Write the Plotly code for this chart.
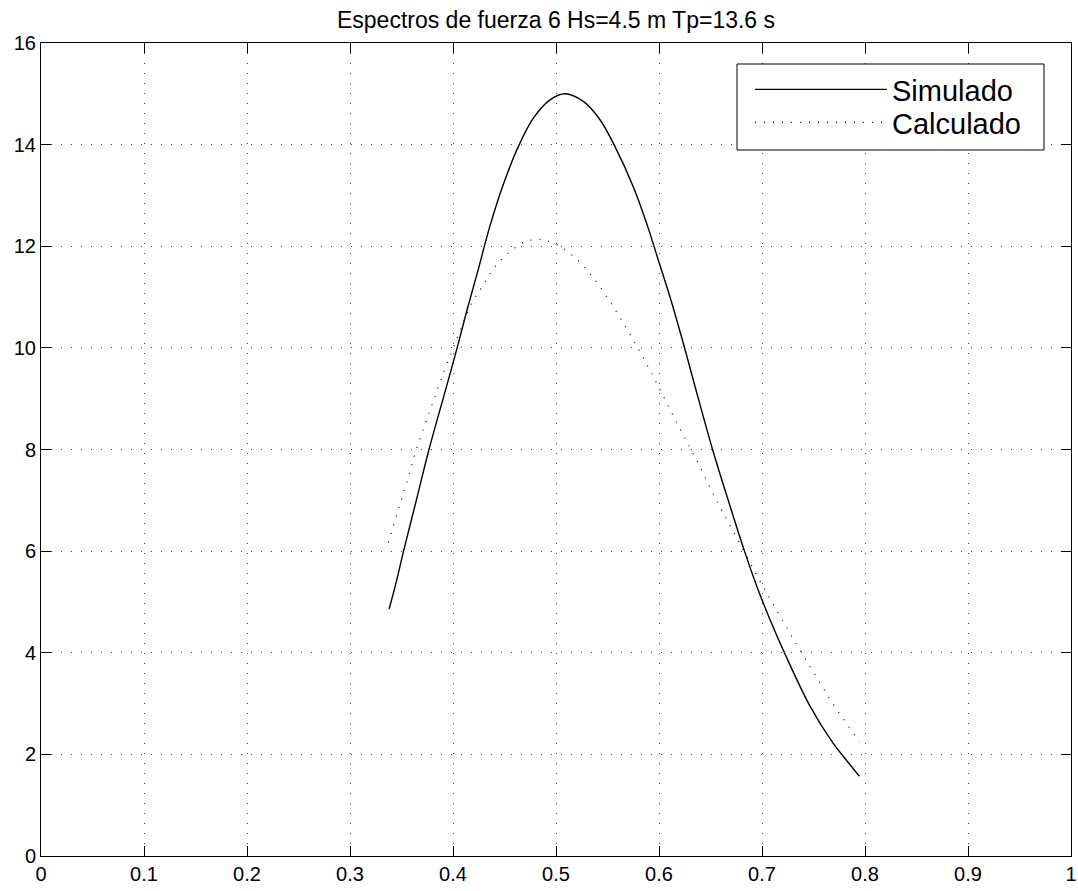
import plotly.graph_objects as go

title_text = "Espectros de fuerza 6 Hs=4.5 m Tp=13.6 s"

x_simulado = [0.338, 0.345, 0.352, 0.365, 0.3767, 0.3955, 0.404, 0.4133, 0.4246, 0.4359,
              0.4489, 0.4634, 0.478, 0.4942, 0.5087, 0.5265, 0.5427, 0.5573, 0.575, 0.588,
              0.5993, 0.6107, 0.6236, 0.635, 0.652, 0.668, 0.683, 0.696, 0.708, 0.722,
              0.7466, 0.769, 0.7806, 0.7945]
y_simulado = [4.86, 5.40, 6.0, 7.05, 8.0, 9.37, 10.0, 10.72, 11.55, 12.40,
              13.22, 13.96, 14.52, 14.88, 15.0, 14.85, 14.49, 13.96, 13.17, 12.45,
              11.73, 11.0, 10.09, 9.24, 8.0, 6.95, 6.0, 5.25, 4.64, 3.99,
              2.95, 2.22, 1.92, 1.57]

x_calculado = [0.3372, 0.346, 0.355, 0.364, 0.3767, 0.387, 0.402, 0.418, 0.4288, 0.4398,
               0.4531, 0.4699, 0.4796, 0.4893, 0.5055, 0.5217, 0.5356, 0.5524, 0.5686, 0.5832,
               0.5961, 0.6197, 0.638, 0.656, 0.675, 0.696, 0.716, 0.737, 0.758, 0.7686,
               0.780, 0.7913, 0.7945]
y_calculado = [6.17, 6.76, 7.35, 7.97, 8.72, 9.30, 10.09, 10.87, 11.22, 11.57,
               11.86, 12.09, 12.13, 12.12, 11.98, 11.71, 11.40, 10.91, 10.38, 9.86,
               9.37, 8.43, 7.73, 6.99, 6.28, 5.49, 4.77, 4.05, 3.35, 3.0,
               2.67, 2.34, 2.25]

x_ticks = [0, 0.1, 0.2, 0.3, 0.4, 0.5, 0.6, 0.7, 0.8, 0.9, 1]
x_ticklabels = ["0", "0.1", "0.2", "0.3", "0.4", "0.5", "0.6", "0.7", "0.8", "0.9", "1"]
y_ticks = [0, 2, 4, 6, 8, 10, 12, 14, 16]

FONT = "Liberation Sans, Arial, Helvetica, sans-serif"

# plot area in pixels (figure 1078 x 891)
L, R, T, B = 41, 1071, 43, 856
def px_x(p):
    return (p - L) / (R - L)
def px_y(p):
    return (B - p) / (B - T)

fig = go.Figure()
fig.add_trace(go.Scatter(
    x=x_simulado, y=y_simulado, mode="lines", name="Simulado",
    line=dict(color="black", width=1.4, shape="spline", smoothing=1.0),
    legend="legend",
))
fig.add_trace(go.Scatter(
    x=x_calculado, y=y_calculado, mode="lines", name="Calculado",
    line=dict(color="black", width=1.2, dash="1px,8px", shape="spline", smoothing=1.0),
    legend="legend2",
))

axis_common = dict(
    showline=True, linecolor="black", linewidth=1, mirror="ticks",
    ticks="inside", ticklen=10, tickcolor="black", tickwidth=1,
    showgrid=True, gridcolor="#444444", gridwidth=1, griddash="1px,9px",
    zeroline=False,
    tickfont=dict(family=FONT, size=20, color="black"),
)

fig.update_xaxes(range=[0, 1], tickvals=x_ticks, ticktext=x_ticklabels, **axis_common)
fig.update_yaxes(range=[0, 16], tickvals=y_ticks, **axis_common)

legend_common = dict(
    xref="paper", yref="paper", xanchor="left", yanchor="top",
    bgcolor="rgba(0,0,0,0)", borderwidth=0,
    font=dict(family=FONT, size=29, color="black"),
    itemwidth=132,
)

fig.update_layout(
    width=1078, height=891,
    margin=dict(l=L, r=1078 - R, t=T, b=891 - B, autoexpand=False),
    paper_bgcolor="white", plot_bgcolor="white",
    title=dict(text=title_text, x=0.5, xref="paper", xanchor="center",
               y=1 - 20 / 891, yanchor="middle", yref="container",
               font=dict(family=FONT, size=23, color="black")),
    showlegend=True,
    legend=dict(x=px_x(750), y=px_y(64), **legend_common),
    legend2=dict(x=px_x(750), y=px_y(97), **legend_common),
    shapes=[dict(
        type="rect", xref="paper", yref="paper", layer="above",
        x0=px_x(737), x1=px_x(1044), y0=px_y(150), y1=px_y(64),
        line=dict(color="black", width=1), fillcolor="white",
    )],
)

fig.write_html("out.html", config={"displayModeBar": False},
               post_script="document.body.style.margin='0';")
